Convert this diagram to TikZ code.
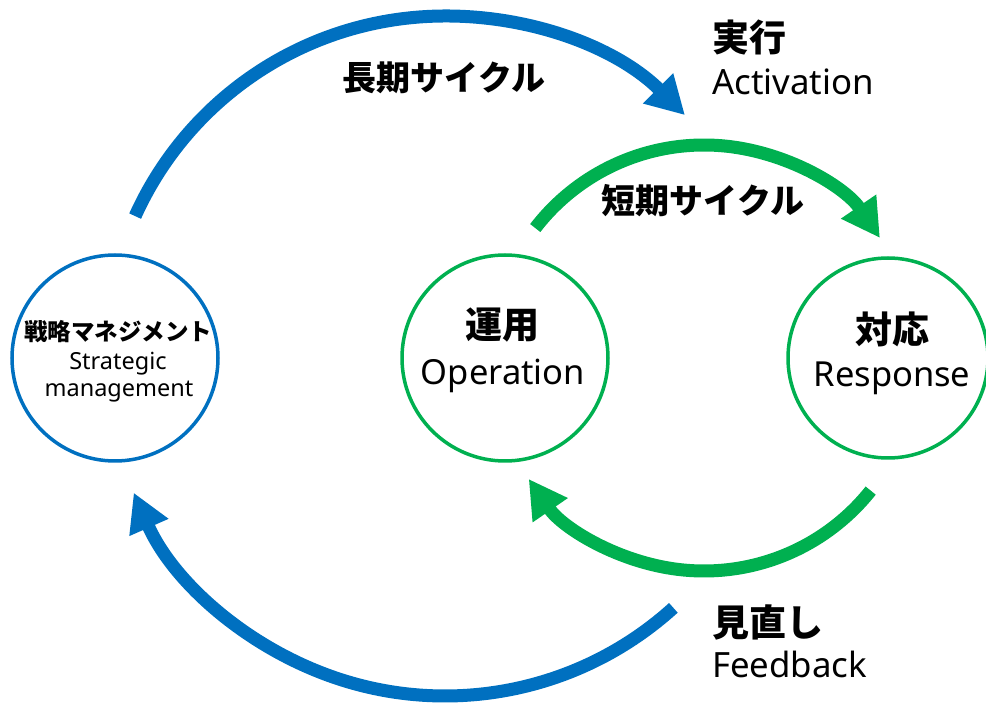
\documentclass[tikz,border=0pt]{standalone}
\usepackage{fontspec}
\setmainfont{Noto Sans}
\newfontfamily\jp{Noto Sans CJK JP}
\usetikzlibrary{arrows.meta}
\definecolor{cblue}{HTML}{0070C0}
\definecolor{cgreen}{HTML}{00B050}
\tikzset{
  ring/.style={circle, line width=3.5pt, minimum size=#1, inner sep=0pt},
  bigarrow/.style={line width=13pt, -{Triangle[length=38pt,width=40pt]}},
  jplabel/.style={font=\jp\bfseries\fontsize{#1}{#1}\selectfont, inner sep=0pt},
  enlabel/.style={font=\fontsize{#1}{#1}\selectfont, inner sep=0pt, anchor=base},
}
\begin{document}
\begin{tikzpicture}[x=1pt,y=1pt]
\useasboundingbox (0,0) rectangle (986,702);
% circles
\node[ring=206pt, draw=cblue] (sm) at (115,344) {};
\node[ring=206pt, draw=cgreen] (op) at (505,344) {};
\node[ring=200pt, draw=cgreen] (rs) at (888,344) {};
% arc centres
\coordinate (bc) at (445,346);
\coordinate (gc) at (704,344);
% long cycle arrows (blue)
\draw[bigarrow, cblue] (bc) ++(155.7:340) arc[start angle=155.7, end angle=45.1, radius=340];
\draw[bigarrow, cblue] (bc) ++(-47.8:340) arc[start angle=-47.8, end angle=-156.3, radius=340];
% short cycle arrows (green)
\draw[bigarrow, cgreen] (gc) ++(142.4:213) arc[start angle=142.4, end angle=34.3, radius=213];
\draw[bigarrow, cgreen] (gc) ++(-38.5:213) arc[start angle=-38.5, end angle=-145.4, radius=213];
% texts
\node[jplabel=34] (lc) at (444,624) {長期サイクル};
\node[jplabel=34] (sc) at (703,501) {短期サイクル};
\node[jplabel=37, anchor=west] (ex) at (712,664) {実行};
\node[enlabel=34.8, anchor=base west] (exe) at (712,607) {Activation};
\node[jplabel=37] (opj) at (502,377) {運用};
\node[enlabel=34.5] (ope) at (503,317) {Operation};
\node[jplabel=37] (rsj) at (892,373) {対応};
\node[enlabel=34.5] (rse) at (892,315) {Response};
\node[jplabel=23.5] (smj) at (118,370) {戦略マネジメント};
\node[enlabel=23.5] (sme1) at (118,332) {Strategic};
\node[enlabel=23.5] (sme2) at (119,305) {management};
\node[jplabel=37, anchor=west] (fb) at (712,80) {見直し};
\node[enlabel=34.8, anchor=base west] (fbe) at (712,24) {Feedback};
\end{tikzpicture}
\end{document}
